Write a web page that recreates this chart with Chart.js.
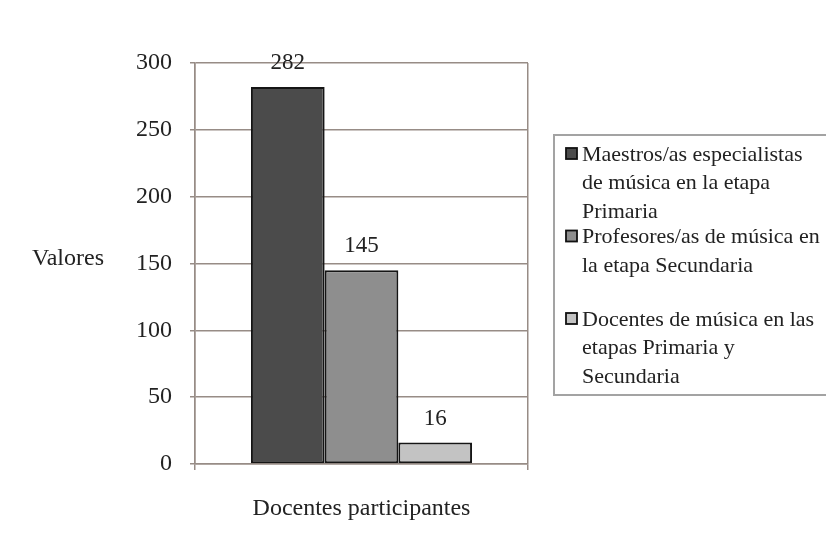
<!DOCTYPE html>
<html>
<head>
<meta charset="utf-8">
<script src="https://cdn.jsdelivr.net/npm/chart.js@4/dist/chart.umd.min.js"></script>
<style>
  html, body { margin: 0; padding: 0; background: #ffffff; }
  #wrap { width: 826px; height: 533px; }
</style>
</head>
<body>
<div id="wrap"><canvas id="c" width="826" height="533"></canvas></div>
<script>
// Chart data
const categories = ['Docentes participantes'];
const seriesNames = [
  'Maestros/as especialistas de música en la etapa Primaria',
  'Profesores/as de música en la etapa Secundaria',
  'Docentes de música en las etapas Primaria y Secundaria'
];
// Wrapped legend text, one array per series
const legendLines = [
  ['Maestros/as especialistas', 'de música en la etapa', 'Primaria'],
  ['Profesores/as de música en', 'la etapa Secundaria'],
  ['Docentes de música en las', 'etapas Primaria y', 'Secundaria']
];
const maestros = [282];
const profesores = [145];
const docentes = [16];
const yMin = 0, yMax = 300, yStep = 50;
const yTitle = 'Valores';

const seriesColors = ['#4b4b4b', '#8e8e8e', '#c3c3c3'];
const FONT = '"Liberation Serif", "Times New Roman", serif';
const TEXT = '#222222';
const GRID = '#978c86';

// Numbers printed above each bar
const valueLabels = {
  id: 'valueLabels',
  afterDatasetsDraw(chart) {
    const ctx = chart.ctx;
    ctx.save();
    ctx.font = '23px ' + FONT;
    ctx.fillStyle = TEXT;
    ctx.textAlign = 'center';
    ctx.textBaseline = 'middle';
    chart.data.datasets.forEach((ds, i) => {
      chart.getDatasetMeta(i).data.forEach((bar, j) => {
        ctx.fillText(String(ds.data[j]), bar.x, bar.y - 24);
      });
    });
    ctx.restore();
  }
};

// Horizontal y-axis title
const sideTitle = {
  id: 'sideTitle',
  afterDraw(chart) {
    const ctx = chart.ctx;
    ctx.save();
    ctx.font = '24px ' + FONT;
    ctx.fillStyle = TEXT;
    ctx.textAlign = 'center';
    ctx.textBaseline = 'middle';
    ctx.fillText(yTitle, 68, 259);
    ctx.restore();
  }
};

// Boxed legend with wrapped entries
const boxLegend = {
  id: 'boxLegend',
  afterDraw(chart) {
    const ctx = chart.ctx;
    ctx.save();
    ctx.strokeStyle = '#a3a3a3';
    ctx.lineWidth = 2;
    ctx.strokeRect(554, 135, 300, 260);
    ctx.font = '22px ' + FONT;
    ctx.textAlign = 'left';
    ctx.textBaseline = 'middle';
    chart.data.datasets.forEach((ds, i) => {
      const y0 = 155 + i * 82.5;
      ctx.fillStyle = ds.backgroundColor;
      ctx.fillRect(566, y0 - 7, 11, 11);
      ctx.strokeStyle = '#111111';
      ctx.lineWidth = 1.8;
      ctx.strokeRect(566, y0 - 7, 11, 11);
      ctx.fillStyle = TEXT;
      legendLines[i].forEach((line, k) => {
        ctx.fillText(line, 582, y0 + k * 28.5);
      });
    });
    ctx.restore();
  }
};

new Chart(document.getElementById('c'), {
  type: 'bar',
  data: {
    labels: categories,
    datasets: [
      { label: seriesNames[0], data: maestros, backgroundColor: seriesColors[0] },
      { label: seriesNames[1], data: profesores, backgroundColor: seriesColors[1] },
      { label: seriesNames[2], data: docentes, backgroundColor: seriesColors[2] }
    ].map(d => Object.assign(d, { borderColor: '#151515', borderWidth: 2, borderSkipped: false }))
  },
  options: {
    responsive: false,
    animation: false,
    devicePixelRatio: 1,
    layout: { padding: { top: 63, right: 298, bottom: 0, left: 0 } },
    datasets: { bar: { categoryPercentage: 0.664, barPercentage: 1.0 } },
    plugins: {
      legend: { display: false },
      tooltip: { enabled: false },
      title: { display: false }
    },
    scales: {
      x: {
        offset: true,
        grid: { offset: true, color: GRID, lineWidth: 1.5, tickLength: 6, drawTicks: true },
        border: { display: true, color: GRID, width: 1.5 },
        ticks: { color: TEXT, font: { family: FONT, size: 24 }, padding: 24 },
        afterFit(scale) { scale.height = 69; }
      },
      y: {
        min: yMin,
        max: yMax,
        grid: { color: GRID, lineWidth: 1.5, tickLength: 5, drawTicks: true },
        border: { display: true, color: GRID, width: 1.5 },
        ticks: { stepSize: yStep, color: TEXT, font: { family: FONT, size: 24 }, padding: 18 },
        afterFit(scale) { scale.width = 195; }
      }
    }
  },
  plugins: [valueLabels, sideTitle, boxLegend]
});
</script>
</body>
</html>
